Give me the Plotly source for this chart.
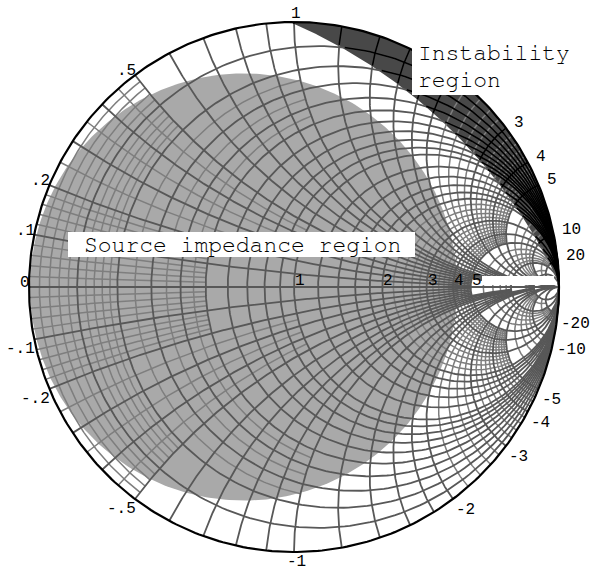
import numpy as np
import plotly.graph_objects as go

# ---- Smith chart grid (normalised resistance r / reactance x) ----
R_MAJOR = [0.1, 0.2, 0.3, 0.4, 0.5, 0.6, 0.7, 0.8, 0.9, 1.0,
           1.2, 1.4, 1.6, 1.8, 2.0, 3.0, 4.0, 5.0, 10.0, 20.0]
# major reactance arcs, grouped by how far in resistance they run
X_MAJOR_LOW = [0.1, 0.2, 0.3, 0.4, 0.5]
X_MAJOR_MID = [0.6, 0.7, 0.8, 0.9, 1.0]
X_MAJOR_HIGH = [1.2, 1.4, 1.6, 1.8, 2.0]
X_MAJOR_TOP = [3.0, 4.0, 5.0, 10.0, 20.0]
X_MAJOR_REACH = [5.0, 10.0, 20.0, np.inf]

# minor lines: values and how far along the other coordinate they reach
MINOR_FINE = [0.02, 0.04, 0.06, 0.08, 0.12, 0.14, 0.16, 0.18]
MINOR_MID = [0.25, 0.35, 0.45]
MINOR_HIGH = [2.2, 2.4, 2.6, 2.8, 3.2, 3.4, 3.6, 3.8, 4.2, 4.4, 4.6, 4.8]
MINOR_TOP = [6.0, 7.0, 8.0, 9.0, 15.0]
MINOR_REACH = [0.5, 1.0, 5.0, 20.0]

# scale labels
R_LABELS = [1, 2, 3, 4, 5]
X_LABELS = [1, 0.5, 0.2, 0.1, 0, -0.1, -0.2, -0.5, -1,
            -2, -3, -4, -5, -10, -20, 3, 4, 5, 10, 20]

# source impedance region (circle in the reflection-coefficient plane)
SOURCE_CENTER = (-0.19, 0.0)
SOURCE_RADIUS = 0.806

# stability circle; the unit disk outside it is the instability region
STAB_CENTER = (-0.787, -0.813)
STAB_RADIUS = 1.97

# ---- page geometry (pixels) ----
W, H = 592, 571
CX, CY, RAD = 294.0, 287.0, 265.0


def px2x(px):
    return (px - CX) / RAD


def py2y(py):
    return (CY - py) / RAD


def gamma(z):
    return (z - 1) / (z + 1)


def r_curve(r, reach, n=300):
    a = np.arctan(reach)
    t = np.linspace(-a, a, n)
    return gamma(r + 1j * np.tan(t))


def x_curve(x, reach, n=240):
    t = np.linspace(0, np.arctan(reach), n)
    return gamma(np.tan(t) + 1j * x)


def join(curves):
    xs, ys = [], []
    for c in curves:
        xs.append(c.real)
        ys.append(c.imag)
        xs.append([np.nan])
        ys.append([np.nan])
    return np.concatenate(xs), np.concatenate(ys)


major = [x_curve(0.0, np.inf)]
for r in R_MAJOR:
    major.append(r_curve(r, np.inf))
for group, reach in zip([X_MAJOR_LOW, X_MAJOR_MID, X_MAJOR_HIGH, X_MAJOR_TOP],
                        X_MAJOR_REACH):
    for x in group:
        major.append(x_curve(x, reach))
        major.append(x_curve(-x, reach))

minor = []
for group, reach in zip([MINOR_FINE, MINOR_MID, MINOR_HIGH, MINOR_TOP], MINOR_REACH):
    for v in group:
        minor.append(r_curve(v, reach))
        minor.append(x_curve(v, reach))
        minor.append(x_curve(-v, reach))

mx, my = join(major)
nx, ny = join(minor)

# instability region: unit disk minus the stability disk
sc = complex(*STAB_CENTER)
d = abs(sc)
a = (1 - STAB_RADIUS ** 2 + d ** 2) / (2 * d)
alpha = np.arccos(a)
phi0 = np.angle(sc)
th = np.linspace(phi0 + alpha, phi0 + 2 * np.pi - alpha, 200)
outer = np.exp(1j * th)
p_start, p_end = outer[0], outer[-1]
psi_s = np.angle(p_start - sc)
psi_e = np.angle(p_end - sc)
if psi_e < psi_s:
    psi_e += 2 * np.pi
psi = np.linspace(psi_e, psi_s, 200)
inner = sc + STAB_RADIUS * np.exp(1j * psi)
band = np.concatenate([outer, inner])


def in_band(g):
    return (np.abs(g) <= 1.0005) & (np.abs(g - sc) >= STAB_RADIUS)


mask = in_band(mx + 1j * my)
bx = np.where(mask, mx, np.nan)
by = np.where(mask, my, np.nan)

t = np.linspace(0, 2 * np.pi, 400)
src = complex(*SOURCE_CENTER) + SOURCE_RADIUS * np.exp(1j * t)
rim = np.exp(1j * t)

fig = go.Figure()
fig.add_trace(go.Scatter(x=src.real, y=src.imag, mode="lines", fill="toself",
                         fillcolor="#a9a9a9", line=dict(width=0, color="#a9a9a9")))
fig.add_trace(go.Scatter(x=band.real, y=band.imag, mode="lines", fill="toself",
                         fillcolor="#484848", line=dict(width=0, color="#484848")))
fig.add_trace(go.Scatter(x=nx, y=ny, mode="lines",
                         line=dict(color="#7e7e7e", width=1.5)))
fig.add_trace(go.Scatter(x=mx, y=my, mode="lines",
                         line=dict(color="#585858", width=1.8)))
fig.add_trace(go.Scatter(x=bx, y=by, mode="lines",
                         line=dict(color="#000000", width=1.6)))
fig.add_trace(go.Scatter(x=rim.real, y=rim.imag, mode="lines",
                         line=dict(color="#000000", width=2.2)))


def fmt(v):
    if v == 0:
        return "0"
    s = f"{abs(v):g}"
    if s.startswith("0."):
        s = s[1:]
    return ("-" if v < 0 else "") + s


MONO = "Nimbus Mono PS, Nimbus Mono L, FreeMono, Courier, Liberation Mono, monospace"
tick_font = dict(family="Liberation Mono", size=16, color="#000000")
ann = []
for v in X_LABELS:
    g = gamma(1j * v) if v != 0 else complex(-1, 0)
    c = g.real
    item = dict(x=g.real, y=g.imag, text=fmt(v), showarrow=False, font=tick_font)
    if c > 0.2:
        if v > 0:
            item.update(xanchor="left", xshift=6, yanchor="bottom", yshift=-6)
        else:
            item.update(xanchor="left", xshift=1, yanchor="top", yshift=0)
    elif c < -0.2:
        item.update(xanchor="right", xshift=3, yanchor="middle",
                    yshift=4 if v >= 0 else -10)
    else:
        item.update(xanchor="center", xshift=2,
                    yanchor="bottom" if v > 0 else "top",
                    yshift=-3 if v > 0 else 1)
    ann.append(item)

for v in R_LABELS:
    g = gamma(complex(v, 0))
    ann.append(dict(x=g.real, y=0, text=fmt(v), showarrow=False, font=tick_font,
                    xanchor="left", xshift=-1, yanchor="bottom", yshift=-5))

box_font = dict(family=MONO, size=23, color="#000000")
ann.append(dict(x=px2x(242), y=py2y(245), text="Source impedance region",
                showarrow=False, font=box_font, xanchor="center", yanchor="middle"))
ann.append(dict(x=px2x(416), y=py2y(53), text="Instability",
                showarrow=False, font=box_font, xanchor="left", yanchor="middle"))
ann.append(dict(x=px2x(416), y=py2y(80), text="region",
                showarrow=False, font=box_font, xanchor="left", yanchor="middle"))

shapes = [
    dict(type="rect", xref="x", yref="y", x0=px2x(68), x1=px2x(415),
         y0=py2y(232), y1=py2y(257), fillcolor="white", line=dict(width=0),
         layer="above"),
    dict(type="rect", xref="x", yref="y", x0=px2x(412), x1=px2x(580),
         y0=py2y(42), y1=py2y(95), fillcolor="white", line=dict(width=0),
         layer="above"),
    # clear strip along the real axis next to the open-circuit point
    dict(type="rect", xref="x", yref="y", x0=px2x(482), x1=px2x(554),
         y0=py2y(276), y1=py2y(285), fillcolor="white", line=dict(width=0),
         layer="above"),
]

fig.update_layout(
    width=W, height=H, autosize=False,
    margin=dict(l=0, r=0, t=0, b=0),
    paper_bgcolor="white", plot_bgcolor="white",
    showlegend=False, hovermode=False,
    xaxis=dict(range=[px2x(0), px2x(W)], visible=False, fixedrange=True),
    yaxis=dict(range=[py2y(H), py2y(0)], visible=False, fixedrange=True),
    annotations=ann, shapes=shapes,
)

fig.write_html("out.html")
